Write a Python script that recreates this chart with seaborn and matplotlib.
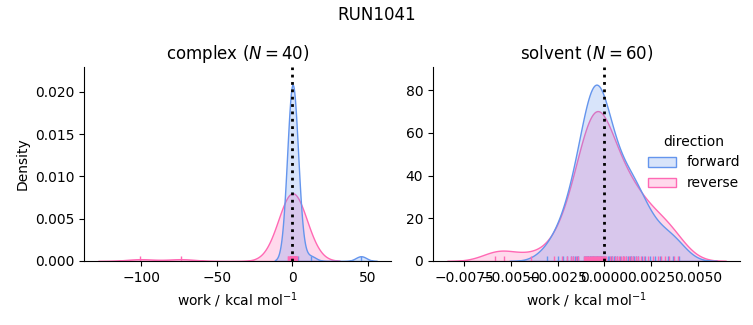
import matplotlib
matplotlib.use("Agg")
import matplotlib.pyplot as plt
import pandas as pd
import seaborn as sns

phases = ["complex", "solvent"]
directions = ["forward", "reverse"]
sample_counts = {"complex": 40, "solvent": 60}
palette = {"forward": "cornflowerblue", "reverse": "hotpink"}

complex_forward = [
    -0.9, -0.8, -0.7, -0.6, -0.5, -0.4, -0.3, -0.2, -0.2, -0.1,
    -0.1, 0.0, 0.0, 0.0, 0.1, 0.1, 0.2, 0.2, 0.2, 0.3,
    0.3, 0.3, 0.4, 0.4, 0.5, 0.5, 0.6, 0.6, 0.7, 0.8,
    0.9, 1.0, 1.1, 1.3, 1.5, 1.8, 1.9, 3.8, 12.2, 45.6,
]
complex_reverse = [
    -100.5, -73.4, -3.0, -2.4, -2.0, -1.6, -1.3, -1.1, -0.9, -0.7,
    -0.6, -0.5, -0.4, -0.3, -0.2, -0.1, 0.0, 0.0, 0.1, 0.2,
    0.3, 0.4, 0.4, 0.5, 0.6, 0.7, 0.8, 0.8, 0.9, 1.0,
    1.1, 1.2, 1.4, 1.6, 1.8, 2.0, 2.3, 2.6, 3.0, 3.5,
]
solvent_forward = [
    -0.00305, -0.00250, -0.00219, -0.00199, -0.00180, -0.00167, -0.00158, -0.00148, -0.00138,
    -0.00109, -0.00103, -0.00098, -0.00094, -0.00089, -0.00085, -0.00079, -0.00075, -0.00070,
    -0.00066, -0.00062, -0.00058, -0.00054, -0.00049, -0.00046, -0.00041, -0.00037, -0.00034,
    -0.00029, -0.00024, -0.00019, -0.00015, -0.00010, -0.00006, -0.00001, 0.00004,
    0.00020, 0.00028, 0.00036, 0.00044, 0.00052, 0.00060,
    0.00070, 0.00082, 0.00098, 0.00115, 0.00128, 0.00137,
    0.00145, 0.00152, 0.00160, 0.00170,
    0.00183, 0.00200, 0.00220,
    0.00245, 0.00270,
    0.00300, 0.00340,
    0.00370, 0.00400,
]
solvent_reverse = [
    -0.00585, -0.00535, -0.00390, -0.00270, -0.00224, -0.00199,
    -0.00178, -0.00165, -0.00152, -0.00138,
    -0.00107, -0.00101, -0.00096, -0.00091, -0.00086, -0.00081, -0.00076,
    -0.00072, -0.00067, -0.00062, -0.00058, -0.00055, -0.00050, -0.00045, -0.00041,
    -0.00038, -0.00033, -0.00028, -0.00024, -0.00021, -0.00016, -0.00011, -0.00007,
    -0.00003, 0.00002, 0.00007, 0.00030, 0.00042, 0.00055, 0.00068,
    0.00080, 0.00089, 0.00098, 0.00107, 0.00118, 0.00132,
    0.00143, 0.00155, 0.00168, 0.00182,
    0.00197, 0.00215, 0.00235,
    0.00260, 0.00290,
    0.00305, 0.00325,
    0.00345, 0.00375, 0.00395,
]

series = [
    ("complex", "forward", complex_forward),
    ("complex", "reverse", complex_reverse),
    ("solvent", "forward", solvent_forward),
    ("solvent", "reverse", solvent_reverse),
]
df = pd.concat(
    [pd.DataFrame({"work": vals, "phase": ph, "direction": d}) for ph, d, vals in series],
    ignore_index=True,
)

g = sns.displot(
    data=df, x="work", hue="direction", col="phase", kind="kde",
    fill=True, rug=True, palette=palette, hue_order=directions,
    col_order=phases, facet_kws=dict(sharex=False, sharey=False),
    height=3, aspect=1.1,
)
for phase, ax in g.axes_dict.items():
    ax.axvline(0, color="black", ls=":", lw=2)
    ax.set_title(f"{phase} ($N = {sample_counts[phase]}$)")
g.set_axis_labels("work / kcal mol$^{-1}$", "Density")

fig = g.figure
fig.set_size_inches(7.53, 3.25)
fig.subplots_adjust(left=84 / 753, right=740 / 753, bottom=64 / 325,
                    top=258 / 325, wspace=0.137)
fig.suptitle("RUN1041")
fig.savefig("out.png", dpi=100)
